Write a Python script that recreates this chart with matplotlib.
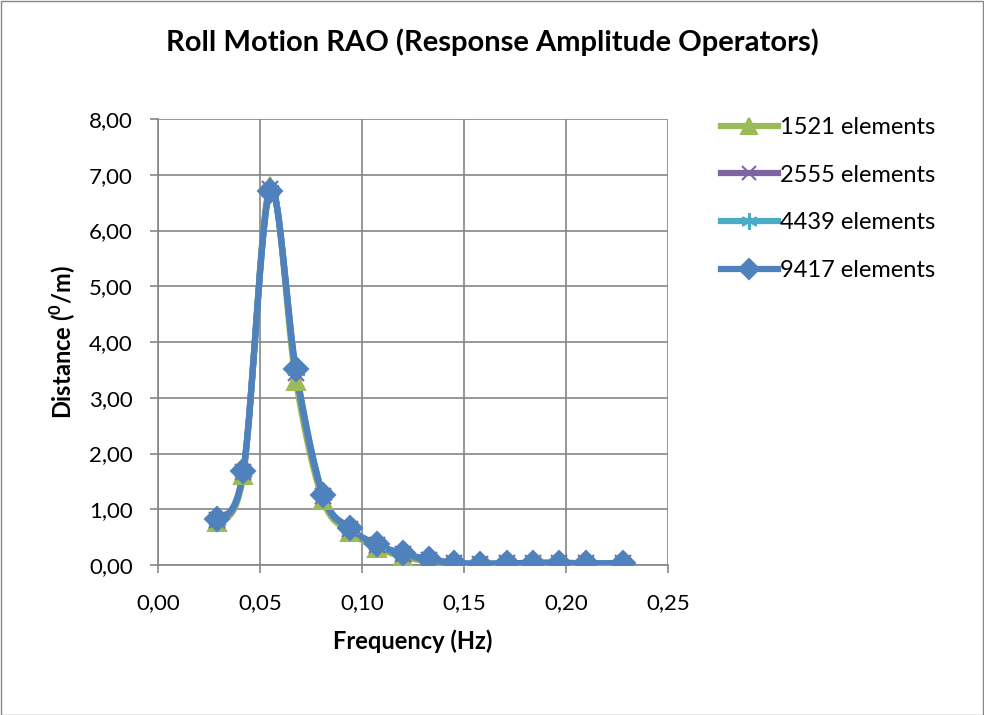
import numpy as np
import matplotlib
matplotlib.use("Agg")
import matplotlib.pyplot as plt
from matplotlib.ticker import FuncFormatter, MultipleLocator
from matplotlib.patches import Rectangle

freq = [0.0291, 0.0418, 0.0549, 0.0676, 0.0809, 0.0941, 0.1072, 0.1199,
        0.1330, 0.1452, 0.1578, 0.1709, 0.1840, 0.1967, 0.2098, 0.2278]
s1521 = [0.77, 1.62, 6.80, 3.30, 1.16, 0.60, 0.31, 0.15, 0.06, 0.02, 0.01, 0.01, 0.02, 0.02, 0.01, 0.01]
s2555 = [0.80, 1.66, 6.74, 3.45, 1.23, 0.64, 0.35, 0.19, 0.09, 0.03, 0.02, 0.03, 0.03, 0.03, 0.03, 0.03]
s4439 = [0.81, 1.67, 6.72, 3.49, 1.25, 0.65, 0.36, 0.20, 0.10, 0.04, 0.02, 0.03, 0.04, 0.04, 0.03, 0.03]
s9417 = [0.82, 1.68, 6.71, 3.51, 1.26, 0.66, 0.37, 0.21, 0.10, 0.04, 0.02, 0.03, 0.04, 0.04, 0.03, 0.03]
labels = ["1521 elements", "2555 elements", "4439 elements", "9417 elements"]
colors = ["#9BBB59", "#8064A2", "#4BACC6", "#4F81BD"]
markers = ["^", "x", (6, 2, 0), "D"]

plt.rcParams['font.family'] = ['Lato', 'DejaVu Sans']
plt.rcParams['mathtext.fontset'] = 'custom'
plt.rcParams['mathtext.rm'] = 'Lato'
plt.rcParams['mathtext.bf'] = 'Lato:bold'


def smooth(x, y, n=30):
    x = np.asarray(x, float); y = np.asarray(y, float)
    xs, ys = [], []
    N = len(x)
    for i in range(N - 1):
        p0 = np.array([x[max(i - 1, 0)], y[max(i - 1, 0)]])
        p1 = np.array([x[i], y[i]])
        p2 = np.array([x[i + 1], y[i + 1]])
        p3 = np.array([x[min(i + 2, N - 1)], y[min(i + 2, N - 1)]])
        c1 = p1 + (p2 - p0) / 6.0
        c2 = p2 - (p3 - p1) / 6.0
        t = np.linspace(0, 1, n)[:, None]
        b = ((1 - t) ** 3) * p1 + 3 * ((1 - t) ** 2) * t * c1 + 3 * (1 - t) * t ** 2 * c2 + t ** 3 * p2
        xs.append(b[:, 0]); ys.append(b[:, 1])
    return np.concatenate(xs), np.concatenate(ys)


fig = plt.figure(figsize=(9.84, 7.15), dpi=100)
W, H = 984, 715
ax = fig.add_axes([158 / W, (H - 565) / H, (668 - 158) / W, (565 - 119) / H])

series = [s1521, s2555, s4439, s9417]
sizes = [13, 12, 14, 12]
handles = []
for s, lab, c, m, ms in zip(series, labels, colors, markers, sizes):
    sx, sy = smooth(freq, s)
    ax.plot(sx, sy, color=c, lw=4.5, solid_capstyle='round', zorder=3)
    ax.plot(freq, s, linestyle='none', marker=m, color=c, ms=ms, mew=1.5, zorder=4)
    h, = ax.plot([], [], color=c, lw=4.5, marker=m, ms=ms - 2, mew=1.5, label=lab)
    handles.append(h)

ax.set_xlim(0, 0.25)
ax.set_ylim(0, 8)
ax.xaxis.set_major_locator(MultipleLocator(0.05))
ax.yaxis.set_major_locator(MultipleLocator(1))
fmt = FuncFormatter(lambda v, p: f"{v:.2f}".replace(".", ","))
ax.xaxis.set_major_formatter(fmt)
ax.yaxis.set_major_formatter(fmt)
ax.grid(True, color="#868686", lw=1.2)
ax.set_axisbelow(True)
for sp in ["top", "right"]:
    ax.spines[sp].set_visible(False)
for sp in ["left", "bottom"]:
    ax.spines[sp].set_color("#868686")
    ax.spines[sp].set_linewidth(1.2)
ax.tick_params(colors="#868686", labelcolor="black", labelsize=16, length=6, width=1.2, direction='out')
ax.tick_params(axis='y', pad=12)
ax.tick_params(axis='x', pad=14)
ax.set_xlabel("Frequency (Hz)", fontsize=17, fontweight='bold', va='center')
ax.set_ylabel(r"Distance ($^{\mathbf{0}}$/m)", fontsize=17, fontweight='bold', va='center')
ax.xaxis.set_label_coords(0.5, (565 - 641) / 446)
ax.yaxis.set_label_coords((63 - 158) / 510, 0.5)

fig.text(492 / W, 1 - 42 / H, "Roll Motion RAO (Response Amplitude Operators)",
         ha='center', va='center', fontsize=21, fontweight='bold')

fig.legend(handles=handles, loc='upper left', bbox_to_anchor=(721 / W, 1 - 117 / H),
           frameon=False, fontsize=17, handlelength=2.4, labelspacing=1.13,
           handletextpad=0.12, borderaxespad=0, borderpad=0)

fig.add_artist(Rectangle((0.5 / W, 0.5 / H), 1 - 1.5 / W, 1 - 1.5 / H, transform=fig.transFigure,
                         fill=False, edgecolor="#868686", lw=1))

fig.savefig("out.png", dpi=100)
